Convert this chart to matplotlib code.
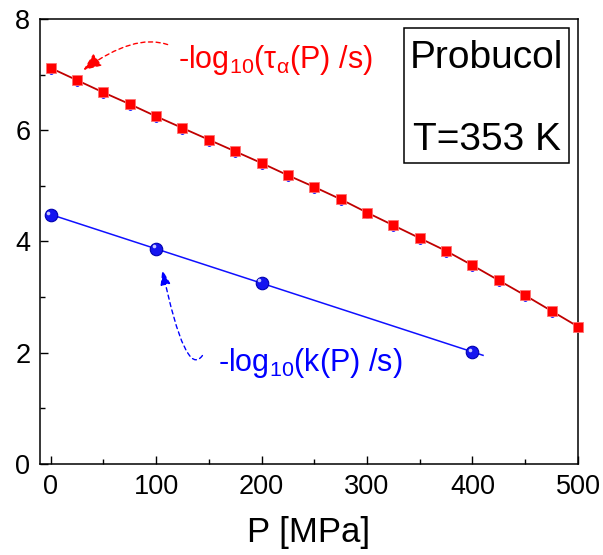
import numpy as np
import matplotlib
matplotlib.use('Agg')
from matplotlib import pyplot as plt
from matplotlib.transforms import ScaledTranslation
from matplotlib.patches import Rectangle

plt.rcParams['font.family'] = ['Liberation Sans', 'DejaVu Sans']
plt.rcParams['mathtext.fontset'] = 'custom'
plt.rcParams['mathtext.rm'] = 'Liberation Sans'
plt.rcParams['mathtext.it'] = 'Liberation Sans'
plt.rcParams['mathtext.default'] = 'regular'

# structural relaxation times, -log10(tau_alpha / s)
P_tau = [0, 25, 50, 75, 100, 125, 150, 175, 200, 225, 250,
         275, 300, 325, 350, 375, 400, 425, 450, 475, 500]
log_tau = [7.12, 6.90, 6.68, 6.47, 6.25, 6.04, 5.83, 5.62, 5.41, 5.19, 4.98,
           4.76, 4.52, 4.29, 4.06, 3.83, 3.57, 3.30, 3.03, 2.75, 2.47]
log_tau_b = [7.05, 6.83, 6.61, 6.40, 6.18, 5.97, 5.76, 5.55, 5.34, 5.12, 4.91,
             4.69, 4.45, 4.22, 3.99, 3.76, 3.50, 3.23, 2.96, 2.68, 2.40]

# rate constants, -log10(k / s)
P_k = [0, 100, 200, 400]
log_k = [4.48, 3.87, 3.26, 2.01]

fig = plt.figure(figsize=(6.03, 5.55), dpi=100)
ax = fig.add_axes([0.0663, 0.164, 0.8922, 0.8018])

# tau_alpha series
ax.plot(P_tau, log_tau_b, ls='none', marker='o', ms=2.5, color='#1a1aff', zorder=2)
ax.plot(P_tau, log_tau, color='#c00000', lw=1.3, marker='s', ms=7.5,
        mfc='#ff0000', mec='#ff7070', mew=0.6, zorder=3, clip_on=False)

# k series with linear fit
coef = np.polyfit(P_k, log_k, 1)
pf = np.linspace(0, 410, 50)
ax.plot(pf, np.polyval(coef, pf), color='#1010ff', lw=1.1, zorder=2)
ax.plot(P_k, log_k, ls='none', marker='o', ms=9, mfc='#1515f0', mec='#0000b0',
        mew=0.8, zorder=3)
hl = ax.transData + ScaledTranslation(-1.6 / 72, 1.6 / 72, fig.dpi_scale_trans)
ax.plot(P_k, log_k, ls='none', marker='o', ms=2.6, mfc='#c8c8ff', mec='none',
        transform=hl, zorder=4)

ax.set_xlim(-10, 500)
ax.set_ylim(0, 8)
ax.set_xticks(range(0, 501, 100))
ax.set_xticks(range(50, 500, 100), minor=True)
ax.set_yticks(range(0, 9, 2))
ax.set_yticks(range(1, 8, 2), minor=True)
ax.tick_params(direction='in', labelsize=19.5, width=1, length=6, pad=7)
ax.tick_params(which='minor', direction='in', width=1, length=3.5)
for s in ax.spines.values():
    s.set_linewidth(1.1)
ax.set_xlabel('P [MPa]', fontsize=25, labelpad=12)

# labels and arrows
ax.text(0.2565, 0.890, r'-log$_{10}$(τ$_{α}$(P) /s)', transform=ax.transAxes,
        fontsize=22, color='#ff0000', ha='left', va='baseline')
ax.annotate('', xy=(31, 7.08), xytext=(111, 7.54),
            arrowprops=dict(arrowstyle='-|>,head_length=1.1,head_width=0.45',
                            color='#ff0000', ls=(0, (3, 2.5)), lw=1,
                            connectionstyle='angle3,angleA=161,angleB=36',
                            shrinkA=0, shrinkB=0))

ax.text(0.331, 0.209, r'-log$_{10}$(k(P) /s)', transform=ax.transAxes,
        fontsize=22, color='#0000ff', ha='left', va='baseline')
ax.annotate('', xy=(106, 3.49), xytext=(144, 1.95),
            arrowprops=dict(arrowstyle='-|>,head_length=0.9,head_width=0.3',
                            color='#0000ff', ls=(0, (3, 2.5)), lw=1,
                            connectionstyle='angle3,angleA=55,angleB=102',
                            shrinkA=0, shrinkB=0))

# sample box
ax.add_patch(Rectangle((0.6766, 0.676), 0.3064, 0.304, transform=ax.transAxes,
                       fill=False, lw=1.1, ec='black', zorder=5))
ax.text(0.830, 0.890, 'Probucol', transform=ax.transAxes, fontsize=28,
        ha='center', va='baseline')
ax.text(0.830, 0.706, 'T=353 K', transform=ax.transAxes, fontsize=28,
        ha='center', va='baseline')

fig.savefig('out.png', dpi=100)
